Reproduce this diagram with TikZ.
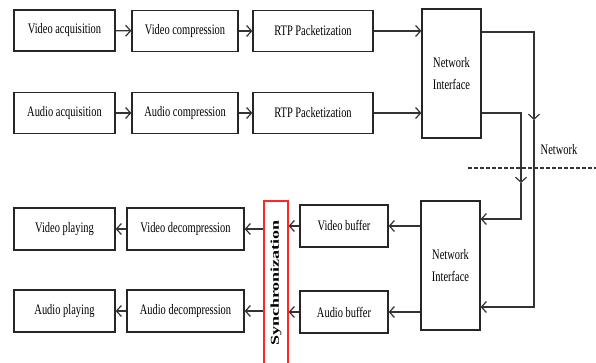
\documentclass[tikz,border=0pt]{standalone}
\usepackage{fontspec}
\setmainfont{Liberation Serif}
\usetikzlibrary{arrows.meta}
\newcommand\tx[1]{\scalebox{0.72}[1]{#1}}
\begin{document}
\begin{tikzpicture}[x=1pt,y=-1pt,
  box/.style={draw=black!85, line width=1.2pt, minimum height=41pt, inner sep=0pt,
    font=\fontsize{14.5}{22}\selectfont, align=center},
  arr/.style={draw=black!80, line width=1.2pt, -{Straight Barb[length=5pt,width=11pt]}},
  ln/.style={draw=black!80, line width=1.2pt}]
\useasboundingbox (0,0) rectangle (596,363);
\clip (0,0) rectangle (596,363);
% sender
\node[box, minimum width=101pt] (va) at (64.5,30.5) {\tx{Video acquisition}};
\node[box, minimum width=106pt] (vc) at (185,31) {\tx{Video compression}};
\node[box, minimum width=120pt] (r1) at (313,31) {\tx{RTP Packetization}};
\node[box, minimum width=101pt] (aa) at (64.5,113) {\tx{Audio acquisition}};
\node[box, minimum width=106pt] (ac) at (185,113) {\tx{Audio compression}};
\node[box, minimum width=120pt] (r2) at (313,113) {\tx{RTP Packetization}};
\node[box, minimum width=59pt, minimum height=129pt] (n1) at (451.5,73.5) {\tx{Network}\\\tx{Interface}};
% receiver
\node[box, minimum width=59pt, minimum height=129pt] (n2) at (450.5,265.5) {\tx{Network}\\\tx{Interface}};
\node[box, minimum width=88pt, minimum height=42pt] (vb) at (344,226) {\tx{Video buffer}};
\node[box, minimum width=88pt, minimum height=42pt] (ab) at (344,312) {\tx{Audio buffer}};
\node[draw=red!85, line width=1.2pt, minimum width=24pt, minimum height=164pt, inner sep=0pt,
  font=\fontsize{12}{14}\selectfont] (sy) at (276,283)
  {\rotatebox{90}{\scalebox{1.5}[1]{\bfseries Synchronization}}};
\node[box, minimum width=117pt, minimum height=42pt] (vd) at (185.5,229) {\tx{Video decompression}};
\node[box, minimum width=117pt, minimum height=42pt] (ad) at (185.5,311) {\tx{Audio decompression}};
\node[box, minimum width=101pt, minimum height=42pt] (vp) at (64.5,229) {\tx{Video playing}};
\node[box, minimum width=101pt, minimum height=42pt] (ap) at (64.5,311) {\tx{Audio playing}};
% network
\node[font=\fontsize{14.5}{22}\selectfont, inner sep=0pt] (net) at (559,150) {\tx{Network}};
\coordinate (dl) at (468,168);
\coordinate (dr) at (596,168);
\draw[ln, dash pattern=on 4pt off 2pt] (dl) -- (dr);
% sender arrows
\draw[arr] (va) -- (vc);
\draw[arr] (vc) -- (r1);
\draw[arr] (aa) -- (ac);
\draw[arr] (ac) -- (r2);
\draw[arr] (r1.east) -- (r1.east -| n1.west);
\draw[arr] (r2.east) -- (r2.east -| n1.west);
% network links
\coordinate (m1) at (534,120);
\coordinate (m2) at (521,183);
\draw[arr] (n1.east |- 0,32) -| (m1);
\draw[arr] (m1) |- (n2.east |- 0,307);
\draw[arr] (n1.east |- 0,113) -| (m2);
\draw[arr] (m2) |- (n2.east |- 0,219);
% receiver arrows
\draw[arr] (n2.west |- vb) -- (vb);
\draw[arr] (n2.west |- ab) -- (ab);
\draw[arr] (vb) -- (vb -| sy.east);
\draw[arr] (ab) -- (ab -| sy.east);
\draw[arr] (vd -| sy.west) -- (vd);
\draw[arr] (ad -| sy.west) -- (ad);
\draw[arr] (vd) -- (vp);
\draw[arr] (ad) -- (ap);
\end{tikzpicture}
\end{document}
